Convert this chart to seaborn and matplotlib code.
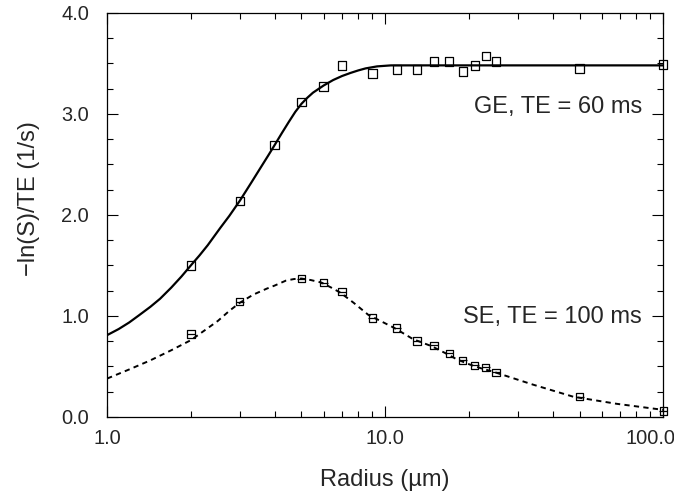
import matplotlib.pyplot as plt
import matplotlib.transforms as mtransforms
import seaborn as sns
from matplotlib.ticker import FixedLocator, FormatStrFormatter, LogLocator, MultipleLocator, NullFormatter

sns.set_style('ticks')
plt.rcParams['font.family'] = ['Liberation Sans', 'DejaVu Sans']

# Measured points (radius in um)
GE_RADIUS = [2, 3, 4, 5, 6, 7, 9, 11, 13, 15, 17, 19, 21, 23, 25, 50, 100]
GE_VALUES = [1.50, 2.14, 2.69, 3.12, 3.27, 3.48, 3.40, 3.44, 3.44, 3.52, 3.52,
             3.42, 3.48, 3.57, 3.52, 3.45, 3.49]
SE_RADIUS = [2, 3, 5, 6, 7, 9, 11, 13, 15, 17, 19, 21, 23, 25, 50, 100]
SE_VALUES = [0.82, 1.14, 1.37, 1.33, 1.24, 0.98, 0.88, 0.75, 0.71, 0.63, 0.56,
             0.51, 0.49, 0.44, 0.20, 0.06]

# Fitted curves
GE_FIT_RADIUS = [1.0, 1.1, 1.2, 1.3, 1.43, 1.55, 1.7, 1.85, 2.0, 2.15, 2.3, 2.55,
                 2.75, 3.0, 3.3, 3.55, 3.8, 4.0, 4.25, 4.5, 4.75, 5.0, 5.25, 5.5,
                 6.0, 6.5, 7.0, 7.5, 8.0, 8.5, 9.35, 10.5, 12, 20, 50, 100]
GE_FIT = [0.81, 0.87, 0.935, 1.005, 1.09, 1.17, 1.28, 1.39, 1.50, 1.60, 1.70, 1.87,
          1.99, 2.14, 2.32, 2.46, 2.59, 2.69, 2.81, 2.92, 3.02, 3.10, 3.16, 3.21,
          3.28, 3.335, 3.375, 3.405, 3.43, 3.45, 3.47, 3.48, 3.48, 3.48, 3.48, 3.48]
SE_FIT_RADIUS = [1.0, 1.2, 1.43, 1.7, 2.0, 2.25, 2.5, 2.75, 3.0, 3.35, 3.75, 4.0,
                 4.4, 4.7, 5.0, 5.4, 5.9, 6.4, 6.9, 7.7, 8.7, 9.7, 10.8, 12.6,
                 14.7, 16.5, 18.1, 20.1, 22.2, 24.3, 34, 47.5, 68, 100]
SE_FIT = [0.38, 0.47, 0.56, 0.66, 0.76, 0.86, 0.95, 1.05, 1.13, 1.21, 1.27, 1.30,
          1.35, 1.365, 1.37, 1.355, 1.33, 1.28, 1.23, 1.13, 1.01, 0.945, 0.88, 0.77,
          0.70, 0.63, 0.57, 0.52, 0.48, 0.45, 0.32, 0.20, 0.13, 0.07]

X_TICKS = [1, 10, 100]
Y_TICKS = [0, 1, 2, 3, 4]


def main() -> None:
    fig, ax = plt.subplots(figsize=(6.74, 4.94), dpi=100)
    fig.subplots_adjust(left=0.159, right=0.984, bottom=0.156, top=0.974)

    # Fitted curves
    sns.lineplot(x=GE_FIT_RADIUS, y=GE_FIT, color='black', linewidth=1.6, ax=ax)
    sns.lineplot(x=SE_FIT_RADIUS, y=SE_FIT, color='black', linewidth=1.4,
                 linestyle=(0, (2.7, 2.2)), ax=ax)

    # Measured points
    sns.scatterplot(x=GE_RADIUS, y=GE_VALUES, marker='s', s=36, facecolor='none',
                    edgecolor='black', linewidth=0.9, zorder=3, ax=ax, clip_on=False)
    sns.scatterplot(x=SE_RADIUS, y=SE_VALUES, marker='s', s=28, facecolor='none',
                    edgecolor='black', linewidth=0.9, zorder=3, ax=ax, clip_on=False)
    sns.scatterplot(x=SE_RADIUS, y=SE_VALUES, marker='_', s=28, color='black',
                    linewidth=0.9, zorder=3, ax=ax, clip_on=False)

    ax.set_xscale('log')
    ax.set_xlim(1, 100)
    ax.set_ylim(0, 4)
    ax.xaxis.set_major_locator(FixedLocator(X_TICKS))
    ax.xaxis.set_major_formatter(FormatStrFormatter('%.1f'))
    ax.xaxis.set_minor_locator(LogLocator(base=10, subs=range(2, 10)))
    ax.xaxis.set_minor_formatter(NullFormatter())
    ax.yaxis.set_major_locator(FixedLocator(Y_TICKS))
    ax.yaxis.set_major_formatter(FormatStrFormatter('%.1f'))
    ax.yaxis.set_minor_locator(MultipleLocator(0.25))

    ax.tick_params(which='both', direction='in', top=True, right=True,
                   width=0.8, color='black', labelsize=14.4)
    ax.tick_params(which='major', length=8)
    ax.tick_params(which='minor', length=4.3)
    ax.tick_params(axis='y', which='both', pad=13)
    ax.tick_params(axis='x', which='both', pad=9)
    for spine in ax.spines.values():
        spine.set_color('black')
        spine.set_linewidth(0.9)

    # the last x label is pulled inwards so it stays on the canvas
    last_tick = ax.xaxis.get_major_ticks()[-1]
    shift = mtransforms.ScaledTranslation(-13 / 100, 0, fig.dpi_scale_trans)
    last_tick.label1.set_transform(last_tick.label1.get_transform() + shift)

    ax.set_xlabel('Radius (\u00b5m)', fontsize=17, labelpad=15)
    ax.set_ylabel('\u2212ln(S)/TE (1/s)', fontsize=17)
    ax.yaxis.set_label_coords(-0.12, 0.54)

    ax.text(0.962, 0.768, 'GE, TE = 60 ms', transform=ax.transAxes,
            ha='right', va='center', fontsize=17)
    ax.text(0.962, 0.248, 'SE, TE = 100 ms', transform=ax.transAxes,
            ha='right', va='center', fontsize=17)

    fig.savefig('out.png', dpi=100)


if __name__ == '__main__':
    main()
